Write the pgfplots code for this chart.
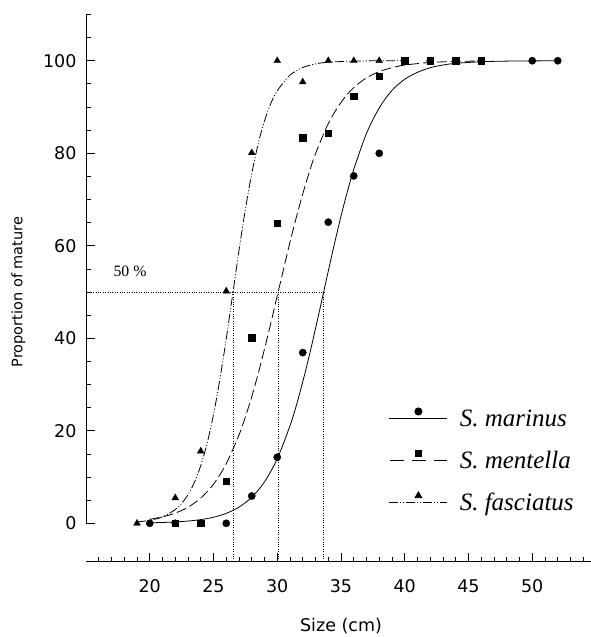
\documentclass[border=0pt]{standalone}
\usepackage{fontspec}
\setmainfont{Liberation Serif}
\newfontfamily\comic{DejaVu Sans}
\usepackage{pgfplots}
\pgfplotsset{compat=1.18}
\begin{document}
\begin{tikzpicture}
\path[use as bounding box] (-86pt,-75.3pt) rectangle (505pt,561.7pt);
\begin{axis}[
  scale only axis, width=504.9pt, height=547.2pt,
  xmin=15, xmax=54.6, ymin=-8.3, ymax=110,
  axis x line=bottom, axis y line=left,
  axis line style={-, line width=0.8pt},
  y axis line style={draw=none},
  tick align=inside,
  xtick={20,25,...,50}, minor xtick={16,17,...,54},
  ytick={0,20,...,100}, minor ytick={5,10,...,110},
  major tick length=9pt, minor tick length=5pt,
  tick style={black, line width=0.8pt},
  ticklabel style={font=\comic\fontsize{17.5}{20}\selectfont},
  /pgf/number format/assume math mode=true,
  xticklabel style={yshift=-14.5pt},
  yticklabel style={xshift=-6pt},
  clip=false,
  legend image code/.code={\draw[#1, mark=none] (0pt,0pt) -- (58pt,0pt); \draw[#1, solid] plot coordinates {(29pt,7pt)};},
  legend style={draw=none, fill=none, at={(axis cs:38.75,25.2)}, anchor=north west,
    font=\itshape\fontsize{25}{29}\selectfont, nodes={inner sep=2pt}, row sep=19pt,
    column sep=10pt, inner sep=0pt},
  legend cell align=left,
]
% y axis line (0 to 110 only)
\draw[line width=0.8pt] (axis cs:15,0) -- (axis cs:15,110);
% 50% guide lines
\addplot[black, line width=0.7pt, dash pattern=on 0.8pt off 1.6pt, forget plot] coordinates {(15,50) (33.64,50)};
\addplot[black, line width=0.7pt, dash pattern=on 0.8pt off 1.6pt, forget plot] coordinates {(26.53,50) (26.53,-8.3)};
\addplot[black, line width=0.7pt, dash pattern=on 0.8pt off 1.6pt, forget plot] coordinates {(30.07,50) (30.07,-8.3)};
\addplot[black, line width=0.7pt, dash pattern=on 0.8pt off 1.6pt, forget plot] coordinates {(33.64,50) (33.64,-8.3)};
% S. marinus fitted curve
\addplot[black, line width=0.8pt, smooth, forget plot] coordinates {
(20,0.11) (21,0.18) (22,0.30) (23,0.49) (24,0.80) (25,1.31) (26,2.15) (27,3.49) (28,5.63) (29,8.95)
(30,13.95) (31,21.1) (31.5,25.5) (32,30.6) (32.5,36.1) (33,42.1) (33.5,48.25) (34,54.5) (34.5,60.6)
(35,66.4) (35.5,71.7) (36,76.5) (37,84.3) (38,89.8) (39,93.6) (40,96.0) (41,97.5) (42,98.5)
(43,99.08) (44,99.44) (46,99.79) (48,99.92) (50,99.97) (52,99.99)};
% S. mentella fitted curve
\addplot[black, line width=0.8pt, smooth, dash pattern=on 10pt off 4pt, forget plot] coordinates {
(20,0.87) (21,1.39) (22,2.20) (23,3.48) (24,5.45) (25,8.45) (26,12.87) (27,19.1) (27.5,23.0) (28,27.4)
(28.5,32.3) (29,37.7) (29.5,43.3) (30,49.2) (30.5,55.0) (31,60.8) (31.5,66.2) (32,71.2) (32.5,75.8)
(33,79.9) (34,86.4) (35,91.0) (36,94.2) (37,96.3) (38,97.65) (39,98.5) (40,99.07) (42,99.63) (44,99.86) (46,99.94)};
% S. fasciatus fitted curve
\addplot[black, line width=0.8pt, smooth, dash pattern=on 9pt off 2pt on 1pt off 2pt on 1pt off 2pt, forget plot] coordinates {
(19,0.30) (20,0.65) (21,1.39) (22,2.97) (22.5,4.30) (23,6.19) (23.5,8.84) (24,12.48) (24.5,17.3)
(25,23.5) (25.5,31.15) (26,39.9) (26.5,49.4) (27,59.0) (27.5,67.85) (28,75.6) (28.5,82.0) (29,87.0)
(29.5,90.8) (30,93.5) (31,96.9) (32,98.54) (33,99.32) (34,99.68) (36,99.93) (38,99.99) (40,100)};
% observed points
\addplot[only marks, mark=*, mark size=3.6pt, black, forget plot] coordinates {
(20,0) (22,0) (24,0) (26,0) (28,5.9) (30,14.3) (32,36.9) (34,65.1) (36,75.1) (38,80.0)
(40,100) (42,100) (44,100) (46,100) (50,100) (52,100)};
\addplot[only marks, mark=square*, mark size=3.2pt, black, forget plot] coordinates {
(22,0) (24,0) (26,9.1) (28,40.1) (30,64.9) (32,83.4) (34,84.3) (36,92.4) (38,96.7)
(40,100) (42,100) (44,100) (46,100)};
\addplot[only marks, mark=triangle*, mark size=3.9pt, black, forget plot] coordinates {
(19,0) (22,5.5) (24,15.6) (26,50.2) (28,80.1) (30,100) (32,95.4) (34,100) (36,100) (38,100)};
% legend
\addlegendimage{black, line width=0.8pt, mark=*, mark size=3.6pt, mark options={solid}}
\addlegendentry{\vphantom{Sf}S. marinus}
\addlegendimage{black, line width=0.8pt, dash pattern=on 14pt off 8pt, dash phase=-1pt, mark=square*, mark size=3.2pt, mark options={solid}}
\addlegendentry{\vphantom{Sf}S. mentella}
\addlegendimage{black, line width=0.8pt, dash pattern=on 9pt off 2pt on 1pt off 2pt on 1pt off 2pt, mark=triangle*, mark size=3.9pt, mark options={solid}}
\addlegendentry{\vphantom{Sf}S. fasciatus}
% labels
\node[font=\fontsize{15.8}{18}\selectfont] at (axis cs:18.45,54.5) {50 \%};
\node[rotate=90, font=\comic\fontsize{14.5}{17}\selectfont] at ([xshift=-67.5pt]axis cs:15,50) {Proportion of mature};
\node[font=\comic\fontsize{17.5}{20}\selectfont] at ([yshift=-64.3pt]axis cs:35,-8.3) {Size (cm)};
\end{axis}
\end{tikzpicture}
\end{document}
